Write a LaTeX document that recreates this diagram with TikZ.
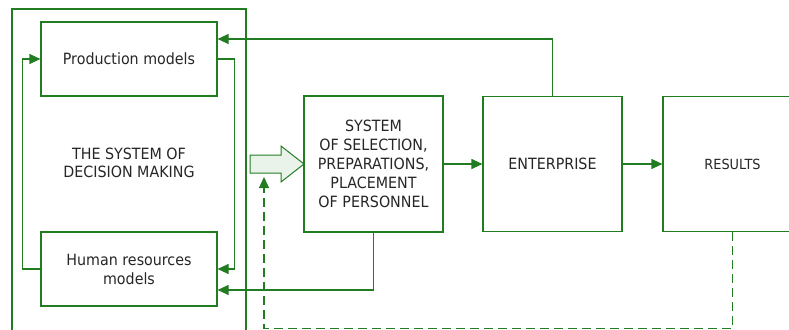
\documentclass[tikz,border=0pt]{standalone}
\usepackage{fontspec}
\setmainfont{DejaVu Sans}[FakeStretch=0.92]
\usetikzlibrary{arrows.meta}
\definecolor{lg}{RGB}{34,125,34}
\definecolor{lfill}{RGB}{234,243,234}
\begin{document}
\begin{tikzpicture}[x=1pt,y=-1pt,
  box/.style={draw=lg,line width=1.2pt,rectangle,inner sep=0pt,align=center,text=black!85,font=\fontsize{15.5}{19}\selectfont},
  lbl/.style={align=center,inner sep=0pt,text=black!85,font=\fontsize{15.5}{18}\selectfont},
  arr/.style={draw=lg,line width=1.2pt,-{Triangle[length=11pt,width=10pt]}},
  dasharr/.style={arr,dash pattern=on 9pt off 5pt},
  blockarrow/.style={draw=lg,line width=1pt,fill=lfill}]
\useasboundingbox (0,0) rectangle (789,329);
\clip (0,0) rectangle (789,329);
\node[box,minimum width=234pt,minimum height=330pt] (sys) at (129,174) {};
\node[lbl] (syst) at (129,163) {THE SYSTEM OF\\DECISION MAKING};
\node[box,minimum width=176pt,minimum height=74pt] (prod) at (129,59) {Production models};
\node[box,minimum width=176pt,minimum height=74pt] (hr) at (129,269) {Human resources\\models};
\node[box,minimum width=139pt,minimum height=136pt] (sel) at (373.5,164) {SYSTEM\\OF SELECTION,\\PREPARATIONS,\\PLACEMENT\\OF PERSONNEL};
\node[box,minimum width=139pt,minimum height=135pt] (ent) at (552.5,164) {ENTERPRISE};
\node[box,minimum width=139pt,minimum height=135pt,font=\fontsize{14}{17}\selectfont] (res) at (732.5,164) {RESULTS};
\draw[blockarrow] (250,155) -- (281,155) -- (281,146) -- (304,164) -- (281,182) -- (281,173) -- (250,173) -- cycle;
\coordinate (tip) at (264,177);
\draw[arr] (hr.west) -- ++(-18,0) |- (prod.west);
\draw[arr] (prod.east) -- ++(17,0) |- (hr.east);
\draw[arr] (ent.north) |- ([yshift=20pt]prod.east);
\draw[arr] (sel.south) |- ([yshift=-21pt]hr.east);
\draw[arr] (sel) -- (ent);
\draw[arr] (ent) -- (res);
\draw[dasharr] (res.south) -- ++(0,96) -| (tip);
\end{tikzpicture}
\end{document}
